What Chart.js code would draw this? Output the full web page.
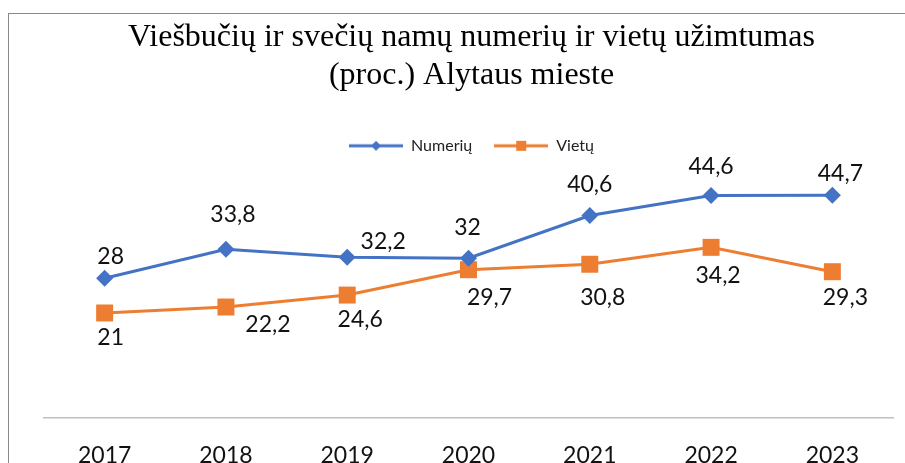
<!DOCTYPE html>
<html>
<head>
<meta charset="utf-8">
<script src="https://cdn.jsdelivr.net/npm/chart.js@4.4.1/dist/chart.umd.min.js"></script>
<style>
  html, body { margin: 0; padding: 0; background: #fff; overflow: hidden; width: 905px; height: 463px; }
  #frame { position: absolute; left: 8px; top: 13px; width: 1000px; height: 1000px; border: 1px solid #8a8a8a; box-sizing: border-box; }
  #wrap { position: absolute; left: 0; top: 0; width: 905px; height: 505px; }
</style>
</head>
<body>
<div id="frame"></div>
<div id="wrap"><canvas id="c" width="905" height="505"></canvas></div>
<script>
const categories = ['2017', '2018', '2019', '2020', '2021', '2022', '2023'];
const numeriu = [28, 33.8, 32.2, 32, 40.6, 44.6, 44.7];
const vietu = [21, 22.2, 24.6, 29.7, 30.8, 34.2, 29.3];
const seriesNames = ['Numerių', 'Vietų'];
const titleLines = ['Viešbučių ir svečių namų numerių ir vietų užimtumas', '(proc.) Alytaus mieste'];

// label offsets (style only): [dx, dy] relative to each point
const numeriuLabelOffsets = [[6,-22],[7,-35],[36,-16],[-1,-31],[0,-31],[0,-29],[8,-22]];
const vietuLabelOffsets = [[6,25],[42,18],[13,25],[21,28],[13,33],[7,28],[13,26]];

const BLUE = '#4472C4';
const ORANGE = '#ED7D31';

function legendIcon(color, style) {
  const cv = document.createElement('canvas');
  cv.width = 54; cv.height = 14;
  const g = cv.getContext('2d');
  g.strokeStyle = color; g.lineWidth = 3;
  g.beginPath(); g.moveTo(0, 7); g.lineTo(54, 7); g.stroke();
  g.fillStyle = color;
  g.beginPath();
  if (style === 'diamond') {
    g.moveTo(27 - 5, 7); g.lineTo(27, 2); g.lineTo(27 + 5, 7); g.lineTo(27, 12); g.closePath();
  } else {
    g.rect(27 - 5, 2, 10, 10);
  }
  g.fill();
  return cv;
}
const icons = [legendIcon(BLUE, 'diamond'), legendIcon(ORANGE, 'square')];

const labelPlugin = {
  id: 'valueLabels',
  afterDatasetsDraw(chart) {
    const ctx = chart.ctx;
    ctx.save();
    ctx.font = '23px Lato';
    ctx.fillStyle = '#111';
    ctx.textAlign = 'center';
    ctx.textBaseline = 'middle';
    chart.data.datasets.forEach((ds, di) => {
      const meta = chart.getDatasetMeta(di);
      const offs = ds.labelOffsets;
      meta.data.forEach((pt, i) => {
        const txt = String(ds.data[i]).replace('.', ',');
        ctx.fillText(txt, pt.x + offs[i][0], pt.y + offs[i][1]);
      });
    });
    ctx.restore();
  }
};

new Chart(document.getElementById('c'), {
  type: 'line',
  data: {
    labels: categories,
    datasets: [
      {
        label: seriesNames[0], data: numeriu, labelOffsets: numeriuLabelOffsets,
        borderColor: BLUE, backgroundColor: BLUE, borderWidth: 3,
        pointStyle: 'rectRot', pointRadius: 8.5, pointHoverRadius: 8.5,
        pointBackgroundColor: BLUE, pointBorderColor: BLUE, pointBorderWidth: 0,
        tension: 0, fill: false, clip: false
      },
      {
        label: seriesNames[1], data: vietu, labelOffsets: vietuLabelOffsets,
        borderColor: ORANGE, backgroundColor: ORANGE, borderWidth: 3,
        pointStyle: 'rect', pointRadius: 12, pointHoverRadius: 12,
        pointBackgroundColor: ORANGE, pointBorderColor: ORANGE, pointBorderWidth: 0,
        tension: 0, fill: false, clip: false
      }
    ]
  },
  options: {
    responsive: false,
    animation: false,
    devicePixelRatio: 1,
    layout: { padding: { left: 44, right: 6, top: 0, bottom: 12 } },
    plugins: {
      tooltip: { enabled: false },
      title: {
        display: true,
        text: titleLines,
        color: '#000',
        font: { family: 'Liberation Serif', size: 32, weight: 'normal', lineHeight: 1.2 },
        padding: { top: 18, bottom: 21 }
      },
      legend: {
        display: true,
        position: 'top',
        labels: {
          usePointStyle: true,
          pointStyleWidth: 54,
          padding: 22,
          color: '#222',
          font: { family: 'Lato', size: 16 },
          generateLabels(chart) {
            return chart.data.datasets.map((ds, i) => ({
              text: ds.label,
              pointStyle: icons[i],
              fillStyle: ds.borderColor,
              strokeStyle: ds.borderColor,
              lineWidth: 0,
              fontColor: '#222',
              hidden: false,
              datasetIndex: i
            }));
          }
        }
      }
    },
    scales: {
      x: {
        type: 'category',
        offset: true,
        grid: { display: false, drawTicks: false },
        border: { display: true, color: '#BFBFBF', width: 1.5 },
        ticks: { color: '#111', font: { family: 'Lato', size: 23 }, padding: 24, maxRotation: 0 }
      },
      y: {
        display: false,
        min: 0,
        max: 51
      }
    }
  },
  plugins: [labelPlugin]
});
</script>
</body>
</html>
